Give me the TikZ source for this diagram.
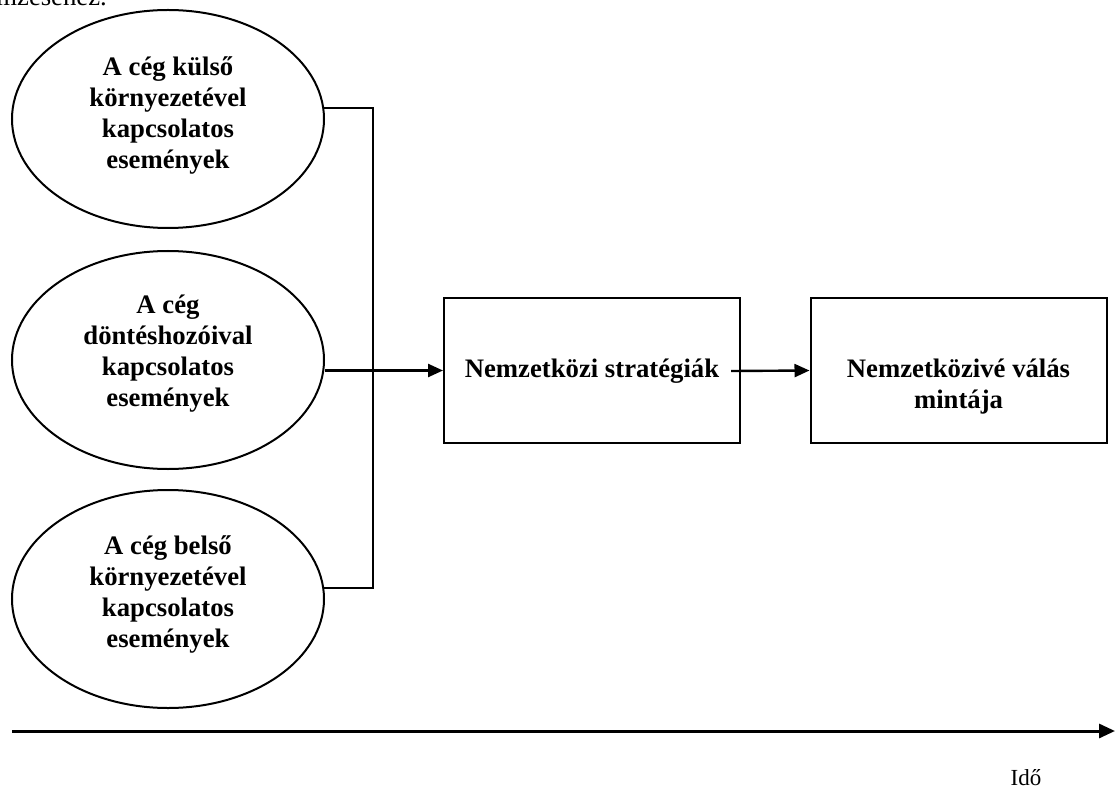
\documentclass[tikz,border=0pt]{standalone}
\usepackage{fontspec}
\setmainfont{Liberation Serif}
\usetikzlibrary{arrows.meta,shapes.geometric}
\begin{document}
\begin{tikzpicture}[x=1pt,y=-1pt,
  evt/.style={draw,line width=2pt,ellipse,minimum width=312pt,minimum height=218pt,inner sep=0pt},
  boxnode/.style={draw,line width=2pt,rectangle,minimum width=296pt,minimum height=145pt,inner sep=0pt},
  lbl/.style={font=\fontsize{26.7}{31}\selectfont\bfseries,align=center},
  conn/.style={line width=2.2pt},
  arr/.style={line width=2.4pt,-{Triangle[length=15pt,width=13pt]}}]
\useasboundingbox (0,0) rectangle (1115,791);
\begin{scope}
\clip (0,0) rectangle (1115,791);
\node[anchor=base east,font=\fontsize{26.7}{31}\selectfont,inner sep=0pt] (frag) at (107,6) {elemzéséhez.};
\end{scope}
% ellipses
\node[evt] (e1) at (168,119) {};
\node[evt] (e2) at (168,360) {};
\node[evt] (e3) at (168,599) {};
\node[lbl] (t1) at (168,115) {A cég külső\\környezetével\\kapcsolatos\\események};
\node[lbl] (t2) at (168,354) {A cég\\döntéshozóival\\kapcsolatos\\események};
\node[lbl] (t3) at (168,594) {A cég belső\\környezetével\\kapcsolatos\\események};
% boxes
\node[boxnode] (b1) at (592,370.5) {};
\node[boxnode] (b2) at (958.5,370.5) {};
\node[lbl] (bt1) at (592,371) {Nemzetközi stratégiák};
\node[lbl,anchor=north] (bt2) at (958.5,355) {Nemzetközivé válás\\mintája};
% connectors
\coordinate (j1) at (373,108);
\coordinate (j3) at (373,588);
\coordinate (s1) at (323,108);
\coordinate (s3) at (323,588);
\draw[conn] (s1) -- (j1) -- (j3) -- (s3);
\draw[arr] (e2.east |- b1.west) -- (b1.west);
\coordinate (a2s) at (731,371);
\draw[arr] (a2s) -- (b2.west);
% time axis
\coordinate (ax0) at (12,731);
\coordinate (ax1) at (1115,731);
\draw[line width=3pt,-{Triangle[length=16pt,width=14pt]}] (ax0) -- (ax1);
\node[font=\fontsize{23}{27}\selectfont,inner sep=1pt] (ido) at (1026,778) {Idő};
\end{tikzpicture}
\end{document}
